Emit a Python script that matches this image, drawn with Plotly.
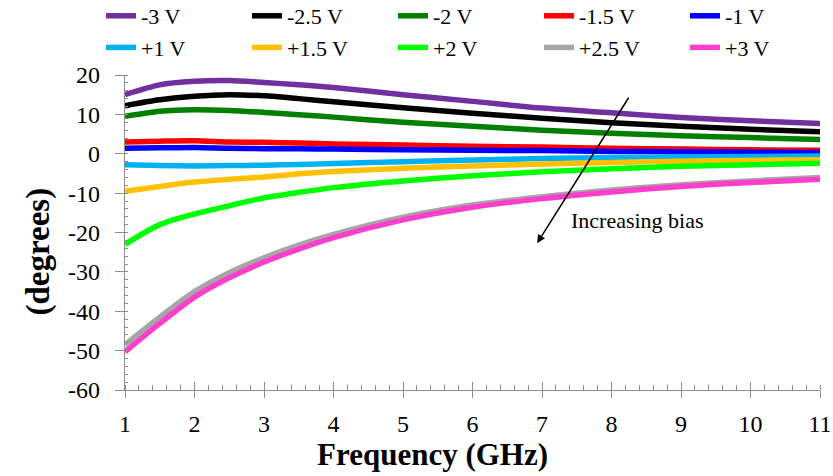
import plotly.graph_objects as go

freq = [1, 1.5, 2, 2.5, 3, 3.5, 4, 5, 6, 7, 8, 9, 10, 11]
labels = ["-3 V", "-2.5 V", "-2 V", "-1.5 V", "-1 V",
          "+1 V", "+1.5 V", "+2 V", "+2.5 V", "+3 V"]
colors = ["#7030A0", "#000000", "#007F00", "#FF0000", "#0000FF",
          "#00B0F0", "#FFC000", "#00FF00", "#A6A6A6", "#FF3FCC"]

m3_0 = [15.0, 17.5, 18.4, 18.6, 18.1, 17.5, 16.8, 15.0, 13.3, 11.6, 10.4, 9.2, 8.4, 7.7]
m2_5 = [12.2, 13.7, 14.6, 15.0, 14.7, 14.0, 13.2, 11.7, 10.3, 9.0, 7.9, 7.0, 6.2, 5.6]
m2_0 = [9.5, 10.8, 11.2, 11.0, 10.5, 9.9, 9.3, 8.0, 7.0, 6.0, 5.2, 4.6, 4.1, 3.6]
m1_5 = [3.0, 3.2, 3.3, 3.0, 2.9, 2.7, 2.5, 2.2, 1.9, 1.7, 1.4, 1.2, 1.0, 0.9]
m1_0 = [1.4, 1.5, 1.6, 1.4, 1.3, 1.25, 1.2, 1.0, 0.9, 0.8, 0.6, 0.5, 0.4, 0.3]
p1_0 = [-2.8, -3.0, -3.1, -3.0, -2.9, -2.7, -2.5, -2.0, -1.6, -1.2, -1.0, -0.8, -0.7, -0.6]
p1_5 = [-9.5, -8.3, -7.2, -6.5, -5.9, -5.1, -4.5, -3.7, -3.1, -2.6, -2.2, -1.9, -1.7, -1.5]
p2_0 = [-23.0, -18.0, -15.3, -13.2, -11.2, -9.8, -8.6, -6.9, -5.6, -4.6, -3.8, -3.2, -2.8, -2.4]
p2_5 = [-48.5, -41.5, -35.0, -30.2, -26.4, -23.2, -20.5, -16.1, -13.0, -10.9, -9.2, -7.9, -6.9, -6.0]
p3_0 = [-50.3, -43.1, -36.4, -31.5, -27.5, -24.2, -21.3, -16.8, -13.6, -11.4, -9.7, -8.3, -7.3, -6.5]

series = [m3_0, m2_5, m2_0, m1_5, m1_0, p1_0, p1_5, p2_0, p2_5, p3_0]

x_ticks = [1, 2, 3, 4, 5, 6, 7, 8, 9, 10, 11]
y_ticks = [-60, -50, -40, -30, -20, -10, 0, 10, 20]
y_ticktext = ["-60", "-50", "-40", "-30", "-20", "-10", "0", "10", "20"]

FONT = "Liberation Serif"
AX = "#8C8C8C"

fig = go.Figure()
for name, col, vals in zip(labels, colors, series):
    fig.add_trace(go.Scatter(x=freq, y=vals, mode="lines", name=name,
                             line=dict(color=col, width=5.5, shape="spline", smoothing=0.8)))

# invisible trace for overlay axes (inside part of crossing ticks)
fig.add_trace(go.Scatter(x=[None], y=[None], xaxis="x2", yaxis="y2",
                         showlegend=False, hoverinfo="skip"))

fig.update_layout(
    width=833, height=476,
    margin=dict(l=125, r=13, t=75, b=86, autoexpand=False),
    paper_bgcolor="white", plot_bgcolor="white",
    font=dict(family=FONT, color="black", size=22),
    showlegend=True,
    legend=dict(orientation="h", x=-0.0345, xanchor="left", y=1.254, yanchor="top",
                entrywidth=101, entrywidthmode="pixels", traceorder="normal",
                font=dict(family=FONT, size=22, color="black"),
                bgcolor="rgba(0,0,0,0)", itemwidth=30, tracegroupgap=0),
    xaxis=dict(range=[1, 11], tickmode="array", tickvals=x_ticks,
               ticktext=[str(v) for v in x_ticks],
               showgrid=False, zeroline=False,
               showline=True, linecolor=AX, linewidth=1.3,
               ticks="outside", ticklen=7, tickcolor=AX, tickwidth=1.3,
               ticklabelstandoff=5,
               tickfont=dict(family=FONT, size=24, color="black"),
               minor=dict(tickmode="linear", tick0=1, dtick=0.2, ticks="inside",
                          ticklen=5, tickcolor=AX, tickwidth=1)),
    yaxis=dict(range=[-60, 20], tickmode="array", tickvals=y_ticks, ticktext=y_ticktext,
               showgrid=False, zeroline=False,
               showline=True, linecolor=AX, linewidth=1.3,
               ticks="outside", ticklen=9, tickcolor=AX, tickwidth=1.3,
               ticklabelstandoff=10,
               tickfont=dict(family=FONT, size=24, color="black"),
               minor=dict(tickmode="linear", tick0=0, dtick=2, ticks="inside",
                          ticklen=3, tickcolor=AX, tickwidth=1)),
    xaxis2=dict(range=[1, 11], tickmode="array", tickvals=x_ticks, overlaying="x", anchor="y2",
                showgrid=False, zeroline=False, showline=False, showticklabels=False,
                ticks="inside", ticklen=8, tickcolor=AX, tickwidth=1.3),
    yaxis2=dict(range=[-60, 20], tickmode="array", tickvals=y_ticks, overlaying="y", anchor="x2",
                showgrid=False, zeroline=False, showline=False, showticklabels=False,
                ticks="inside", ticklen=3, tickcolor=AX, tickwidth=1.3),
    annotations=[
        dict(x=6.93, y=-22.7, ax=8.26, ay=14.6, xref="x", yref="y", axref="x", ayref="y",
             text="", showarrow=True, arrowhead=2, arrowsize=1.1, arrowwidth=1.5,
             arrowcolor="black"),
        dict(x=8.37, y=-16.9, xref="x", yref="y", text="Increasing bias",
             showarrow=False, font=dict(family=FONT, size=22, color="black")),
        dict(x=0.443, y=-0.205, xref="paper", yref="paper", text="<b>Frequency (GHz)</b>",
             showarrow=False, xanchor="center", yanchor="middle",
             font=dict(family=FONT, size=31, color="black")),
        dict(x=-0.125, y=0.44, xref="paper", yref="paper", text="<b>(degrees)</b>",
             showarrow=False, textangle=-90, xanchor="center", yanchor="middle",
             font=dict(family=FONT, size=33, color="black")),
    ],
)

fig.write_html("out.html")
